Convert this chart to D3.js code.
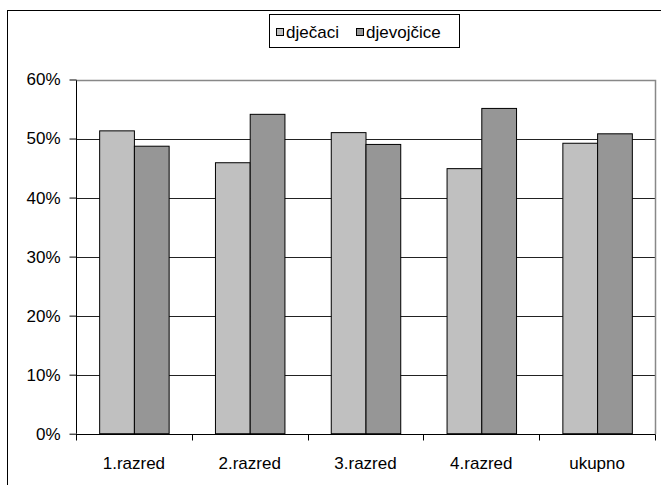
<!DOCTYPE html>
<html><head><meta charset="utf-8">
<script src="https://cdn.jsdelivr.net/npm/d3@7"></script>
<style>html,body{margin:0;padding:0;background:#fff;}svg{display:block;}</style>
</head><body>
<svg id="c" width="661" height="485"></svg>
<script>
const categories = ["1.razred", "2.razred", "3.razred", "4.razred", "ukupno"];
const seriesNames = ["dječaci", "djevojčice"];
const djecaci = [51.3, 45.9, 51.0, 44.9, 49.2];
const djevojcice = [48.7, 54.1, 49.0, 55.1, 50.8];
const yTicks = [0, 10, 20, 30, 40, 50, 60];
const colors = ["#c0c0c0", "#969696"];

const svg = d3.select("#c");
const font = "'Liberation Sans', Arial, sans-serif";

// outer frame
svg.append("rect").attr("x", 7.5).attr("y", 10.5).attr("width", 700).attr("height", 500)
  .attr("fill", "none").attr("stroke", "#000").attr("stroke-width", 1);

const pLeft = 76, pRight = 655, pTop = 79.5, pBottom = 433.7;
const x0 = d3.scaleBand().domain(categories).range([pLeft, pRight]).padding(0);
const bw = x0.bandwidth();
const x1 = d3.scaleBand().domain(seriesNames).range([bw * 0.2, bw * 0.8]).padding(0);
const y = d3.scaleLinear().domain([0, 60]).range([pBottom, pTop]);

// gridlines
svg.append("g").selectAll("line").data(yTicks.filter(t => t > 0 && t < 60)).join("line")
  .attr("x1", pLeft).attr("x2", pRight)
  .attr("y1", d => Math.round(y(d)) + 0.5).attr("y2", d => Math.round(y(d)) + 0.5)
  .attr("stroke", "#222").attr("stroke-width", 1);

// plot area border (top & right, grey)
svg.append("path")
  .attr("d", `M${pLeft},${Math.round(pTop)+0.5}H${pRight+0.5}V${Math.round(pBottom)}`)
  .attr("fill", "none").attr("stroke", "#888").attr("stroke-width", 1.5);

// bars
const data = categories.map((c, i) => ({c, vals: [djecaci[i], djevojcice[i]]}));
const g = svg.append("g");
data.forEach(d => {
  d.vals.forEach((v, j) => {
    g.append("rect")
      .attr("x", x0(d.c) + x1(seriesNames[j]) + 0.5)
      .attr("y", y(v))
      .attr("width", x1.bandwidth())
      .attr("height", y(0) - y(v))
      .attr("fill", colors[j]).attr("stroke", "#000").attr("stroke-width", 1);
  });
});

// y axis
const yAxis = d3.axisLeft(y).tickValues(yTicks).tickFormat(d => d + "%").tickSize(7).tickPadding(9);
const ya = svg.append("g").attr("transform", `translate(${pLeft + 0.5},0)`).call(yAxis);
ya.select(".domain").attr("d", `M0,${Math.round(pTop)+0.5}V${pBottom}`).attr("stroke", "#000");
ya.selectAll("text").attr("font-family", font).attr("font-size", 17).attr("fill", "#000");
ya.selectAll(".tick line").attr("stroke", "#000");

// x axis
const xAxis = d3.axisBottom(x0).tickSize(0).tickPadding(22);
const xa = svg.append("g").attr("transform", `translate(0,${Math.round(pBottom)+0.5})`).call(xAxis);
xa.select(".domain").attr("d", `M${pLeft},0H${pRight+0.5}`).attr("stroke", "#000");
xa.selectAll("text").attr("font-family", font).attr("font-size", 17).attr("fill", "#000");
// category separator ticks
const sepTicks = categories.map(c => x0(c)).concat([pRight]);
xa.selectAll(".sep").data(sepTicks).join("line").attr("class", "sep")
  .attr("x1", d => Math.round(d) + 0.5).attr("x2", d => Math.round(d) + 0.5)
  .attr("y1", 0).attr("y2", 6).attr("stroke", "#000");

// legend
const lg = svg.append("g");
lg.append("rect").attr("x", 269.5).attr("y", 14.5).attr("width", 190).attr("height", 33)
  .attr("fill", "#fff").attr("stroke", "#000").attr("stroke-width", 1);
const legX = [276, 356];
seriesNames.forEach((n, i) => {
  lg.append("rect").attr("x", legX[i] + 0.5).attr("y", 28.5).attr("width", 7).attr("height", 7)
    .attr("fill", colors[i]).attr("stroke", "#000").attr("stroke-width", 1);
  lg.append("text").attr("x", legX[i] + 10).attr("y", 38).text(n)
    .attr("font-family", font).attr("font-size", 17).attr("fill", "#000");
});
</script>
</body></html>
